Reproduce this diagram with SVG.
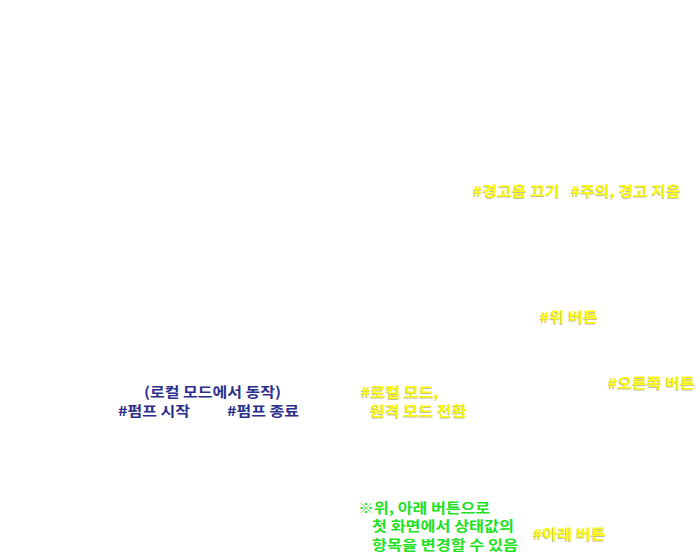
<svg xmlns="http://www.w3.org/2000/svg" width="700" height="559" viewBox="0 0 700 559">
<style>
text{font-family:"Noto Sans CJK KR","Noto Sans",sans-serif;font-size:14px;font-weight:bold;}
.y{fill:#ffff00;}
.ys{fill:#8a8a5a;opacity:0.55;}
.b{fill:#2b2f8c;}
.g{fill:#22e022;}
</style>
<rect width="700" height="559" fill="#ffffff"/>
<g id="connectors"></g>
<g id="shadows">
<text class="ys" x="472.3" y="196.7" textLength="87" lengthAdjust="spacingAndGlyphs">#경고음 끄기</text>
<text class="ys" x="570.3" y="196.7" textLength="110" lengthAdjust="spacingAndGlyphs">#주의, 경고 지움</text>
<text class="ys" x="539.3" y="322.7" textLength="58" lengthAdjust="spacingAndGlyphs">#위 버튼</text>
<text class="ys" x="607.3" y="388.7" textLength="87" lengthAdjust="spacingAndGlyphs">#오른쪽 버튼</text>
<text class="ys" x="360.3" y="397.7" textLength="78" lengthAdjust="spacingAndGlyphs">#로컬 모드,</text>
<text class="ys" x="369.3" y="416.7" textLength="97" lengthAdjust="spacingAndGlyphs">원격 모드 전환</text>
<text class="ys" x="532.3" y="539.7" textLength="73" lengthAdjust="spacingAndGlyphs">#아래 버튼</text>
</g>
<g id="warn-off"><text class="y" x="473" y="196" textLength="87" lengthAdjust="spacingAndGlyphs">#경고음 끄기</text></g>
<g id="clear-warn"><text class="y" x="571" y="196" textLength="110" lengthAdjust="spacingAndGlyphs">#주의, 경고 지움</text></g>
<g id="btn-up"><text class="y" x="540" y="322" textLength="58" lengthAdjust="spacingAndGlyphs">#위 버튼</text></g>
<g id="btn-right"><text class="y" x="608" y="388" textLength="87" lengthAdjust="spacingAndGlyphs">#오른쪽 버튼</text></g>
<g id="mode-switch">
<text class="y" x="361" y="397" textLength="78" lengthAdjust="spacingAndGlyphs">#로컬 모드,</text>
<text class="y" x="370" y="416" textLength="97" lengthAdjust="spacingAndGlyphs">원격 모드 전환</text>
</g>
<g id="btn-down"><text class="y" x="533" y="539" textLength="73" lengthAdjust="spacingAndGlyphs">#아래 버튼</text></g>
<g id="pump">
<text class="b" x="144" y="397" textLength="137" lengthAdjust="spacingAndGlyphs">(로컬 모드에서 동작)</text>
<text class="b" x="118" y="416" textLength="72" lengthAdjust="spacingAndGlyphs">#펌프 시작</text>
<text class="b" x="227" y="416" textLength="72" lengthAdjust="spacingAndGlyphs">#펌프 종료</text>
</g>
<g id="note">
<text class="g" x="358" y="513" textLength="132" lengthAdjust="spacingAndGlyphs">※위, 아래 버튼으로</text>
<text class="g" x="372" y="531" textLength="142" lengthAdjust="spacingAndGlyphs">첫 화면에서 상태값의</text>
<text class="g" x="372" y="550" textLength="146" lengthAdjust="spacingAndGlyphs">항목을 변경할 수 있음</text>
</g>
</svg>
